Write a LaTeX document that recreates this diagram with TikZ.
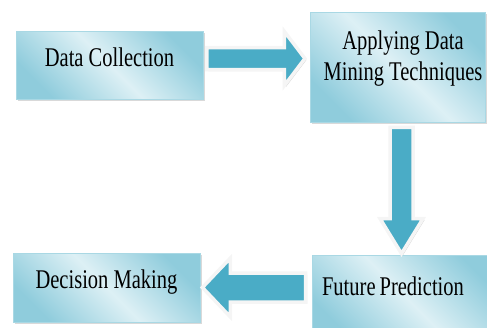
\documentclass[tikz,border=0pt]{standalone}
\usepackage{fontspec}
\usetikzlibrary{calc,shadows}
\newfontfamily\boxfont[FakeStretch=0.76]{Liberation Serif}
\definecolor{boxdark}{HTML}{8FCCDC}
\definecolor{boxlight}{HTML}{DDF0F5}
\definecolor{boxedge}{HTML}{A9D8E4}
\definecolor{arrowblue}{HTML}{4AACC6}

% block arrow from #1 to #2: shaft half width #3, head half width #4, head length #5
\newcommand{\blockarrow}[5]{%
  \draw[bigarrow] let \p1=(#1), \p2=(#2), \n1={atan2(\y2-\y1,\x2-\x1)}, \n2={veclen(\x2-\x1,\y2-\y1)} in
    [shift={(\p1)}, rotate=\n1] (0,#3) -- ({\n2-#5},#3) -- ({\n2-#5},#4) -- (\n2,0)
    -- ({\n2-#5},-#4) -- ({\n2-#5},-#3) -- (0,-#3) -- cycle;
}

\begin{document}
\begin{tikzpicture}[x=1pt, y=-1pt]
\tikzstyle{stage} 	= [draw = boxedge, line width = 0.8pt, rectangle, top color = boxdark, bottom color = boxdark, middle color = boxlight, shading angle = -45, font = \boxfont\fontsize{27}{31}\selectfont, text height = 19pt, drop shadow = {opacity = 0.3, shadow xshift = 2pt, shadow yshift = -2pt}] % define process box
\tikzstyle{bigarrow} 	= [fill = arrowblue, draw = white!96!black, line width = 3.5pt, drop shadow = {opacity = 0.35, shadow xshift = 1.5pt, shadow yshift = -1.5pt}] % define block arrow

\clip (0,0) rectangle (487,327);

% the four stages
\node(DC)[stage, minimum width = 187, minimum height = 68, text depth = 17pt] at (109.5,65){Data Collection};
\node(ADM)[stage, minimum width = 174, minimum height = 110, text depth = 55pt] at (398,67){\begin{tabular}[t]{@{\hspace{10pt}}c@{}}Applying Data\\Mining Techniques\end{tabular}};
\node(FP)[stage, minimum width = 188, minimum height = 85, text depth = 24pt] at (406,297.5){\begin{tabular}[t]{@{}c@{\hspace{26pt}}}Future\hspace{4pt}Prediction\end{tabular}};
\node(DM)[stage, minimum width = 187, minimum height = 69, text depth = 18pt] at (106.5,287.5){Decision Making};

% block arrows between the stages
\coordinate (a1s) at ($(DC.east)+(3.5,-6.5)$);
\coordinate (a1e) at ($(ADM.west)+(-5,-8.5)$);
\blockarrow{a1s}{a1e}{11}{27}{20.5}
\coordinate (a2s) at ($(ADM.south)+(3.5,5)$);
\coordinate (a2e) at ($(FP.north)+(-4.5,-1)$);
\blockarrow{a2s}{a2e}{11.5}{21.5}{35}
\coordinate (a3s) at ($(FP.west)+(-6,-10)$);
\coordinate (a3e) at ($(DM.east)+(2,0)$);
\blockarrow{a3s}{a3e}{14.5}{29.5}{28}
\end{tikzpicture}
\end{document}
